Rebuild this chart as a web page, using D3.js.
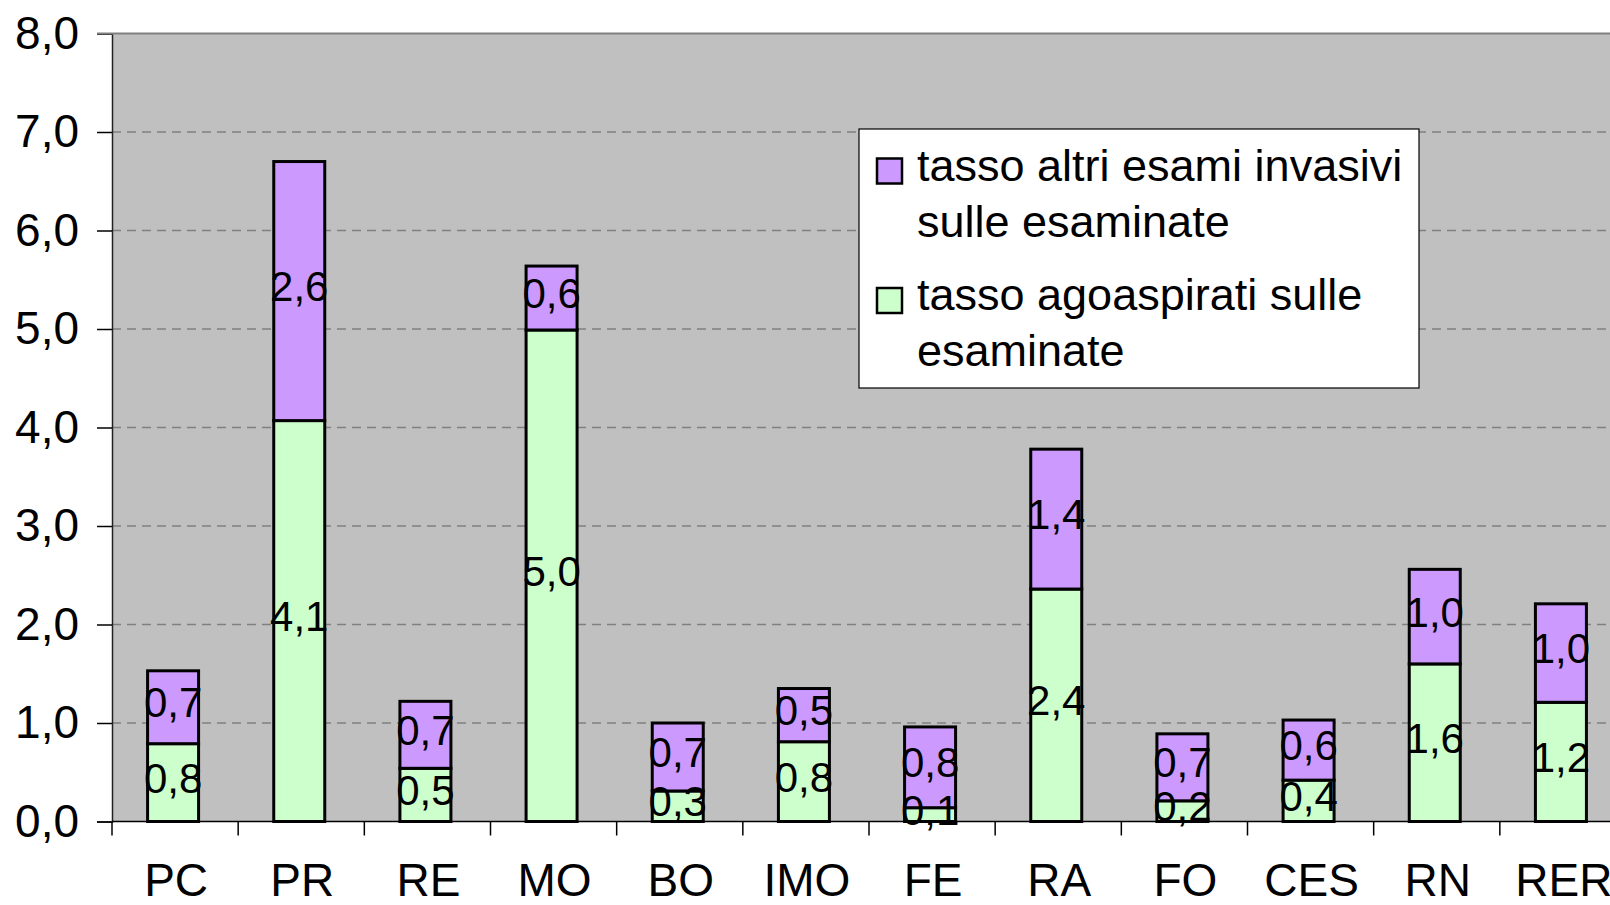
<!DOCTYPE html>
<html>
<head>
<meta charset="utf-8">
<script src="https://cdn.jsdelivr.net/npm/d3@7"></script>
<style>
  body { margin: 0; background: #fff; }
  svg { display: block; font-family: "Liberation Sans", Arial, sans-serif; }
</style>
</head>
<body>
<svg width="1610" height="905"></svg>
<script>
// data
const categories = ["PC", "PR", "RE", "MO", "BO", "IMO", "FE", "RA", "FO", "CES", "RN", "RER"];
const agoaspirati = [0.79, 4.07, 0.54, 4.99, 0.31, 0.81, 0.14, 2.36, 0.21, 0.42, 1.60, 1.21];
const altriEsami = [0.74, 2.63, 0.68, 0.649, 0.69, 0.54, 0.82, 1.42, 0.68, 0.61, 0.96, 1.00];
const yTicks = [0, 1, 2, 3, 4, 5, 6, 7, 8];
const legendLabels = [
  ["tasso altri esami invasivi", "sulle esaminate"],
  ["tasso agoaspirati sulle", "esaminate"]
];

const purple = "#CC99FF", green = "#CCFFCC";

const svg = d3.select("svg");

// plot area (runs past the right edge like the original)
const plotLeft = 112, plotRight = 1626, plotTop = 33.5, plotBottom = 821.5;

const x = d3.scaleBand()
  .domain(categories)
  .range([plotLeft, plotRight]);

const y = d3.scaleLinear()
  .domain([0, 8])
  .range([plotBottom, plotTop]);

// background
svg.append("rect")
  .attr("x", plotLeft).attr("y", plotTop)
  .attr("width", plotRight - plotLeft).attr("height", plotBottom - plotTop)
  .attr("fill", "#C0C0C0");

// dashed grid
svg.append("g")
  .selectAll("line")
  .data(yTicks.filter(d => d > 0 && d < 8))
  .enter().append("line")
  .attr("x1", plotLeft).attr("x2", plotRight)
  .attr("y1", d => y(d)).attr("y2", d => y(d))
  .attr("stroke", "#808080")
  .attr("stroke-width", 1.3)
  .attr("stroke-dasharray", "9,6");

// stacked bars
const rows = categories.map((c, i) => ({cat: c, ago: agoaspirati[i], altri: altriEsami[i]}));
const series = d3.stack().keys(["ago", "altri"])(rows);
const colors = {ago: green, altri: purple};

const barW = 51;
const fmt = v => v.toFixed(1).replace(".", ",");

series.forEach(s => {
  svg.append("g").selectAll("rect")
    .data(s)
    .enter().append("rect")
    .attr("x", d => x(d.data.cat) + x.bandwidth() / 2 - barW / 2 - 2)
    .attr("y", d => y(d[1]))
    .attr("width", barW)
    .attr("height", d => y(d[0]) - y(d[1]))
    .attr("fill", colors[s.key])
    .attr("stroke", "#000")
    .attr("stroke-width", 3);
});

// value labels
series.forEach(s => {
  svg.append("g").selectAll("text")
    .data(s)
    .enter().append("text")
    .attr("x", d => x(d.data.cat) + x.bandwidth() / 2 - 2)
    .attr("y", d => (y(d[0]) + y(d[1])) / 2)
    .attr("dy", "0.24em")
    .attr("text-anchor", "middle")
    .attr("font-size", "42px")
    .attr("fill", "#000")
    .text(d => fmt(d.data[s.key]));
});

// y axis
const yAxis = d3.axisLeft(y)
  .tickValues(yTicks)
  .tickSize(15)
  .tickPadding(18)
  .tickFormat(fmt);
const yG = svg.append("g")
  .attr("transform", `translate(${plotLeft},0)`)
  .call(yAxis);
yG.select(".domain").attr("stroke", "#222").attr("stroke-width", 1.5);
yG.selectAll(".tick line").attr("stroke", "#000").attr("stroke-width", 1.5);
yG.selectAll(".tick text")
  .attr("font-size", "46px")
  .attr("font-family", "Liberation Sans, Arial, sans-serif")
  .attr("fill", "#000");

// top border
svg.append("line")
  .attr("x1", 97).attr("x2", plotRight)
  .attr("y1", plotTop).attr("y2", plotTop)
  .attr("stroke", "#808080").attr("stroke-width", 2);

// x axis: ticks on band boundaries
svg.append("line")
  .attr("x1", plotLeft).attr("x2", plotRight)
  .attr("y1", plotBottom).attr("y2", plotBottom)
  .attr("stroke", "#000").attr("stroke-width", 1.5);
svg.append("g").selectAll("line")
  .data(categories)
  .enter().append("line")
  .attr("x1", d => x(d)).attr("x2", d => x(d))
  .attr("y1", plotBottom).attr("y2", plotBottom + 14)
  .attr("stroke", "#000").attr("stroke-width", 1.5);
svg.append("g").selectAll("text")
  .data(categories)
  .enter().append("text")
  .attr("x", d => x(d) + x.bandwidth() / 2 + 1)
  .attr("y", 896)
  .attr("text-anchor", "middle")
  .attr("font-size", "46px")
  .attr("fill", "#000")
  .text(d => d);

// legend
const legend = svg.append("g");
legend.append("rect")
  .attr("x", 859).attr("y", 129)
  .attr("width", 560).attr("height", 259)
  .attr("fill", "#fff")
  .attr("stroke", "#000").attr("stroke-width", 1.2);

const legendColors = [purple, green];
const legendTop = [180.5, 310];
legendLabels.forEach((lines, i) => {
  legend.append("rect")
    .attr("x", 877).attr("y", legendTop[i] - 22)
    .attr("width", 25).attr("height", 25)
    .attr("fill", legendColors[i])
    .attr("stroke", "#000").attr("stroke-width", 2.5);
  lines.forEach((t, j) => {
    legend.append("text")
      .attr("x", 917)
      .attr("y", legendTop[i] + j * 56)
      .attr("font-size", "45px")
      .attr("fill", "#000")
      .text(t);
  });
});
</script>
</body>
</html>
